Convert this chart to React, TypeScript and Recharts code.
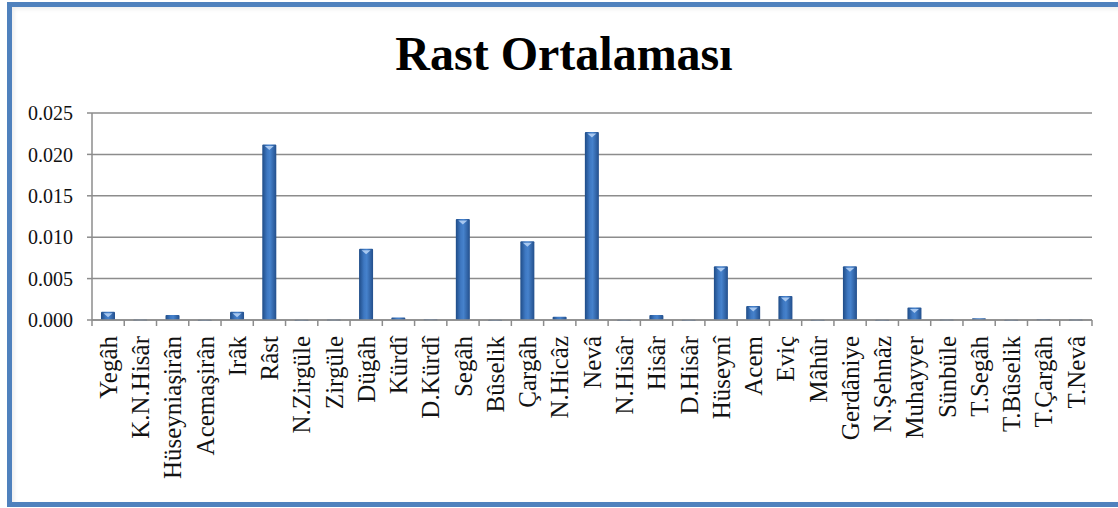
import { Bar, BarChart, CartesianGrid, XAxis, YAxis } from "recharts";

const categories = [
  "Yegâh", "K.N.Hisâr", "Hüseyniaşirân", "Acemaşirân", "Irâk", "Râst", "N.Zirgüle", "Zirgüle",
  "Dügâh", "Kürdî", "D.Kürdî", "Segâh", "Bûselik", "Çargâh", "N.Hicâz", "Nevâ", "N.Hisâr",
  "Hisâr", "D.Hisâr", "Hüseynî", "Acem", "Eviç", "Mâhûr", "Gerdâniye", "N.Şehnâz", "Muhayyer",
  "Sünbüle", "T.Segâh", "T.Bûselik", "T.Çargâh", "T.Nevâ",
];

const averages = [
  0.001, 0.00005, 0.0006, 0.00003, 0.001, 0.0212, 0.00003, 0.00005,
  0.0086, 0.0003, 0.0001, 0.0122, 0.00003, 0.0095, 0.0004, 0.0227, 0.00003,
  0.0006, 0.00003, 0.0065, 0.0017, 0.0029, 0.00003, 0.0065, 0.00003, 0.0015,
  0.00005, 0.0002, 0.00003, 0.0001, 0.00005,
];

const yTicks = [0, 0.005, 0.01, 0.015, 0.02, 0.025];

const data = categories.map((name, i) => ({ name, value: averages[i] }));

const W = 1118;
const H = 508;
const PLOT_LEFT = 92;
const PLOT_RIGHT = 1092;
const PLOT_TOP = 113;
const AXIS_Y = 320;
const BAND = (PLOT_RIGHT - PLOT_LEFT) / categories.length;
const FONT = "'Liberation Serif', 'Times New Roman', serif";

function XTick(props: any) {
  const { x, payload, index } = props;
  const half = BAND / 2;
  return (
    <g>
      <line x1={x - half} x2={x - half} y1={AXIS_Y} y2={AXIS_Y + 6} stroke="#8c8c8c" strokeWidth={1.5} />
      {index === categories.length - 1 && (
        <line x1={x + half} x2={x + half} y1={AXIS_Y} y2={AXIS_Y + 6} stroke="#8c8c8c" strokeWidth={1.5} />
      )}
      <text
        transform={`translate(${x},${AXIS_Y + 16}) rotate(-90)`}
        textAnchor="end"
        dy="0.35em"
        fontSize={25}
        fontFamily={FONT}
        fill="#111"
      >
        {payload.value}
      </text>
    </g>
  );
}

function BarShape(props: any) {
  const { x, y, width, height } = props;
  if (!height || height <= 0) return null;
  return (
    <g>
      <rect x={x} y={y} width={width} height={Math.max(height, 1)} fill="url(#barGrad)" rx={1} />
      {height > 6 && (
        <path
          d={`M${x + 2.5},${y + 1.5} L${x + width - 2.5},${y + 1.5} L${x + width / 2},${y + 5.5} Z`}
          fill="#a8c8f0"
        />
      )}
    </g>
  );
}

export default function App() {
  return (
    <div style={{ position: "fixed", left: 0, top: 0, width: W, height: H, overflow: "hidden", background: "#fff" }}>
      <div
        style={{
          position: "absolute",
          left: 7,
          top: 2,
          width: W + 20,
          height: 505,
          border: "5px solid #4f81bd",
          boxSizing: "border-box",
          boxShadow: "inset 2px 2px 4px rgba(0,0,0,0.08)",
        }}
      />
      <div
        style={{
          position: "absolute",
          left: 0,
          width: 1128,
          top: 30,
          textAlign: "center",
          fontFamily: FONT,
          fontWeight: "bold",
          fontSize: 48,
          lineHeight: "48px",
          color: "#000",
        }}
      >
        Rast Ortalaması
      </div>
      <div style={{ position: "absolute", left: 0, top: 0 }}>
        <BarChart
          width={W}
          height={H}
          data={data}
          margin={{ top: PLOT_TOP, right: W - PLOT_RIGHT, bottom: 0, left: 12 }}
        >
          <defs>
            <linearGradient id="barGrad" x1="0" y1="0" x2="1" y2="0">
              <stop offset="0%" stopColor="#1f4c87" />
              <stop offset="35%" stopColor="#3e78c2" />
              <stop offset="55%" stopColor="#4682cc" />
              <stop offset="100%" stopColor="#234f8c" />
            </linearGradient>
          </defs>
          <CartesianGrid vertical={false} stroke="#8c8c8c" strokeWidth={1.5} />
          <XAxis
            dataKey="name"
            interval={0}
            height={H - AXIS_Y}
            tickLine={false}
            axisLine={{ stroke: "#8c8c8c", strokeWidth: 1.5 }}
            tick={<XTick />}
          />
          <YAxis
            width={80}
            domain={[0, 0.025]}
            ticks={yTicks}
            tickFormatter={(v: number) => v.toFixed(3)}
            tickSize={5}
            tickMargin={14}
            axisLine={{ stroke: "#8c8c8c", strokeWidth: 1.5 }}
            tickLine={{ stroke: "#8c8c8c", strokeWidth: 1.5 }}
            tick={{ fontSize: 20, fontFamily: FONT, fill: "#111" }}
          />
          <Bar dataKey="value" barSize={14} shape={<BarShape />} isAnimationActive={false} />
        </BarChart>
      </div>
    </div>
  );
}
